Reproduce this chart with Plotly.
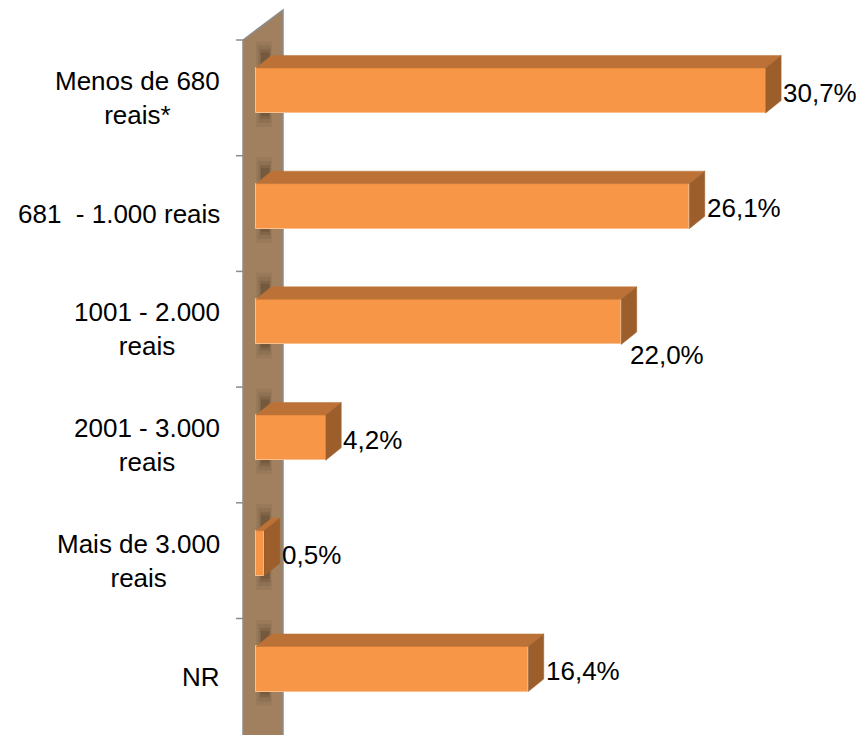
import plotly.graph_objects as go

# ---- data ----
categories = ["Menos de 680<br>reais*", "681  - 1.000 reais", "1001 - 2.000<br>reais",
              "2001 - 3.000<br>reais", "Mais de 3.000<br>reais", "NR"]
values = [30.7, 26.1, 22.0, 4.2, 0.5, 16.4]
value_labels = [f"{v:.1f}".replace(".", ",") + "%" for v in values]

# ---- geometry / style constants ----
W, H = 861, 735
X0_PX, PX_PER_X = 256.0, 16.6
Y0_PX, PX_PER_Y = 90.5, 115.7
BAR_H = 0.39
DX = 15.5 / PX_PER_X     # bar depth (x units)
DY = 12.5 / PX_PER_Y     # bar depth (y units, upward)

FRONT = "rgb(247,150,70)"
TOP = "rgb(188,114,54)"
SIDE = "rgb(156,95,44)"
WALL = "rgb(161,128,96)"
FONT = "Liberation Sans, Arial, sans-serif"
FSIZE = 26


def px2x(p):
    return (p - X0_PX) / PX_PER_X


def px2y(p):
    return (p - Y0_PX) / PX_PER_Y


ys = list(range(len(categories)))
fig = go.Figure()
shapes = []

# back wall (left plane)
wall_path = (f"M {px2x(243)} {px2y(40)} L {px2x(283)} {px2y(10)} L {px2x(283)} {px2y(760)} "
             f"L {px2x(243)} {px2y(760)} Z")
shapes.append(dict(type="path", path=wall_path, xref="x", yref="y", layer="below",
                   fillcolor=WALL, line=dict(color="rgb(140,140,140)", width=1.5)))

# soft shadows of bars on the wall
for y in ys:
    for grow, shrink, alpha in [(14, 0, 0.07), (10, 2, 0.09), (6, 4, 0.12), (3, 5, 0.15)]:
        x_a, x_b = px2x(256 + shrink), px2x(272 - shrink / 2)
        y_a = y - BAR_H / 2 - DY - grow / PX_PER_Y
        y_b = y + BAR_H / 2 + grow / PX_PER_Y
        shapes.append(dict(type="rect", xref="x", yref="y", layer="below",
                           x0=x_a, x1=x_b, y0=y_a, y1=y_b, line=dict(width=0),
                           fillcolor=f"rgba(40,25,10,{alpha})"))

# front faces of bars
fig.add_trace(go.Bar(x=values, y=ys, orientation="h", width=BAR_H, base=0,
                     marker=dict(color=FRONT, line=dict(color="rgb(250,192,144)", width=1)),
                     hoverinfo="skip", showlegend=False))

# top and side faces
for y, v in zip(ys, values):
    yt = y - BAR_H / 2
    yb = y + BAR_H / 2
    fig.add_trace(go.Scatter(x=[0, v, v + DX, DX, 0], y=[yt, yt, yt - DY, yt - DY, yt],
                             mode="lines", fill="toself", fillcolor=TOP,
                             line=dict(color=TOP, width=0.5), hoverinfo="skip", showlegend=False))
    fig.add_trace(go.Scatter(x=[v, v + DX, v + DX, v, v], y=[yt, yt - DY, yb - DY, yb, yt],
                             mode="lines", fill="toself", fillcolor=SIDE,
                             line=dict(color=SIDE, width=0.5), hoverinfo="skip", showlegend=False))

# tick marks on category axis (between categories)
for k in range(len(categories)):
    ty = k + px2y(40)
    shapes.append(dict(type="line", xref="x", yref="y", x0=px2x(236), x1=px2x(243),
                       y0=ty, y1=ty, line=dict(color="rgb(140,140,140)", width=1.5)))

annotations = []
label_offset = px2y(98)
for y, c in zip(ys, categories):
    annotations.append(dict(x=px2x(222), y=y + label_offset, xref="x", yref="y", text=c,
                            showarrow=False, xanchor="right", yanchor="middle", align="center",
                            font=dict(family=FONT, size=FSIZE, color="black")))

# value labels (third one sits below its bar)
dodge = {2: (-0.55 * DX, 33 / PX_PER_Y)}
for i, (y, v, t) in enumerate(zip(ys, values, value_labels)):
    ox, oy = dodge.get(i, (0.0, 2 / PX_PER_Y))
    annotations.append(dict(x=v + DX + ox, y=y + oy, xref="x", yref="y", text=t,
                            showarrow=False, xanchor="left", yanchor="middle",
                            font=dict(family=FONT, size=FSIZE, color="black")))

fig.update_layout(
    width=W, height=H, margin=dict(l=0, r=0, t=0, b=0),
    paper_bgcolor="white", plot_bgcolor="rgba(0,0,0,0)",
    xaxis=dict(range=[px2x(0), px2x(W)], visible=False, fixedrange=True),
    yaxis=dict(range=[px2y(H), px2y(0)], visible=False, fixedrange=True),
    shapes=shapes, annotations=annotations, bargap=0,
)

fig.write_html("out.html", config={"displayModeBar": False},
               post_script="document.body.style.margin='0';document.body.style.overflow='hidden';")
